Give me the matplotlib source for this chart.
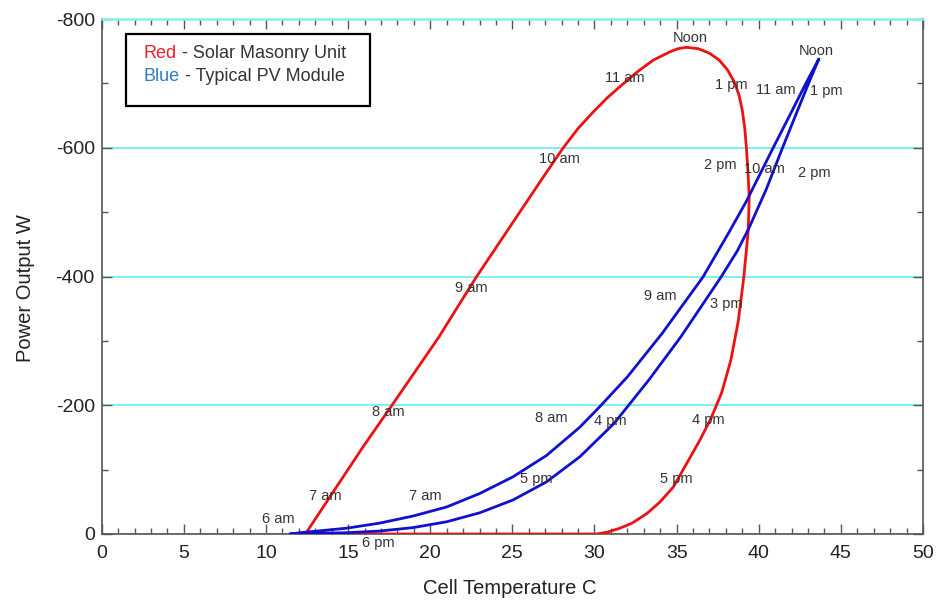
import matplotlib
matplotlib.use("Agg")
import matplotlib.pyplot as plt
from matplotlib.ticker import MultipleLocator
from matplotlib.patches import Rectangle

plt.rcParams['font.family'] = ['Liberation Sans', 'DejaVu Sans']
plt.rcParams['axes.unicode_minus'] = False

# Solar Masonry Unit (red) loop: temperature (C) and power (W)
red_temp = [12.4, 13.9, 15.9, 17.75, 20.5, 22.8, 25.45, 27.0, 28.1, 29.0, 29.9, 30.75,
            31.55, 32.56, 33.57, 34.59, 35.1, 35.6, 36.3, 37.0, 37.6, 38.1, 38.5, 38.8,
            39.0, 39.15, 39.25, 39.35, 39.42, 39.36, 39.09, 38.75, 38.3, 37.75, 37.1,
            36.4, 35.8, 34.8, 34.0, 33.2, 32.3, 31.55, 30.8, 30.15, 25.0, 20.0, 15.0, 12.4]
red_power = [0, -58, -135, -203, -305, -399, -500, -559, -600, -630, -655, -677,
             -695, -717, -736, -749, -754, -756, -754, -747, -736, -721, -703, -682,
             -658, -630, -600, -560, -523, -471, -399, -330, -270, -220, -180,
             -145, -118, -73, -50, -32, -17, -9, -3, 0, 0, 0, 0, 0]

# Typical PV module (blue): morning branch and afternoon branch
blue_am_temp = [11.5, 12.07, 14.91, 16.94, 18.97, 21.0, 23.02, 25.05, 27.08, 29.11,
                30.33, 32.0, 34.1, 36.6, 38.24, 39.25, 40.88, 41.88, 42.87, 43.66]
blue_am_power = [0, -2, -9, -17, -28, -42, -63, -89, -122, -166,
                 -198, -244, -311, -399, -471, -517, -600, -650, -700, -738]
blue_pm_temp = [11.5, 14.91, 16.94, 18.97, 21.0, 23.02, 25.05, 27.08, 29.11, 31.2,
                33.3, 35.25, 37.7, 38.7, 39.4, 40.45, 41.45, 42.3, 43.05, 43.66]
blue_pm_power = [0, -2, -4.6, -10, -19, -33, -53, -81, -120, -172,
                 -239, -306, -399, -440, -475, -535, -600, -654, -701, -738]

# Time-of-day annotations (text, temperature, power)
time_text = ["6 am", "7 am", "7 am", "8 am", "8 am", "9 am", "9 am", "10 am", "10 am",
             "11 am", "11 am", "Noon", "Noon", "1 pm", "1 pm", "2 pm", "2 pm", "3 pm",
             "4 pm", "4 pm", "5 pm", "5 pm", "6 pm"]
time_x = [10.73, 13.59, 19.68, 17.44, 27.35, 22.52, 33.98, 27.89, 40.37,
          31.85, 41.04, 35.81, 43.48, 38.34, 44.13, 37.69, 43.37, 38.04,
          30.94, 36.92, 26.48, 35.0, 16.82]
time_y = [-23, -59, -59, -189, -180, -382, -370, -582, -567,
          -708, -690, -770, -751, -698, -688, -573, -561, -358,
          -176, -177, -85, -86, 14]

x_ticks = [0, 5, 10, 15, 20, 25, 30, 35, 40, 45, 50]
y_ticks = [0, -200, -400, -600, -800]

fig = plt.figure(figsize=(9.36, 6), dpi=100)
ax = fig.add_axes([0.1087, 0.11, 0.8774, 0.8583])

ax.set_xlim(0, 50)
ax.set_ylim(0, -800)
ax.set_xticks(x_ticks)
ax.set_yticks(y_ticks)
ax.set_yticklabels([str(v) for v in y_ticks])
ax.xaxis.set_minor_locator(MultipleLocator(1))
ax.yaxis.set_minor_locator(MultipleLocator(100))
ax.tick_params(which='both', direction='in', top=True, right=True,
               color='#555555', labelcolor='#222222', labelsize=14)
ax.tick_params(which='major', length=7, width=1)
ax.tick_params(which='minor', length=4, width=1)
ax.tick_params(axis='x', which='major', pad=8)
ax.tick_params(axis='y', which='major', pad=5)

ax.set_axisbelow(True)
ax.yaxis.grid(True, color='#80f0f0', linewidth=1.5)
for s in ['left', 'bottom', 'right']:
    ax.spines[s].set_color('#555555')
    ax.spines[s].set_linewidth(1.2)
ax.spines['top'].set_color('#80f0f0')
ax.spines['top'].set_linewidth(1.8)

ax.plot(red_temp, red_power, color='#ee1111', lw=2.0, solid_joinstyle='round', zorder=3)
ax.plot(blue_am_temp + blue_pm_temp[::-1], blue_am_power + blue_pm_power[::-1],
        color='#1010d0', lw=2.0, solid_joinstyle='round', zorder=3)

for t, x, y in zip(time_text, time_x, time_y):
    ax.text(x, y, t, ha='center', va='center', fontsize=10.5, color='#333333',
            zorder=4, clip_on=False)

ax.set_xlabel("Cell Temperature C", fontsize=14.5, color='#222222', va='center')
ax.xaxis.set_label_coords(0.497, -0.105)
ax.set_ylabel("Power Output W", fontsize=14.5, color='#222222', va='center')
ax.yaxis.set_label_coords(-0.093, 0.478)

# Legend box
ax.add_patch(Rectangle((0.0296, 0.8317), 0.2971, 0.1386, transform=ax.transAxes,
                       fill=True, facecolor='white', edgecolor='black', lw=1.6, zorder=5))
t1 = ax.text(0.0507, 0.9334, "Red", transform=ax.transAxes, fontsize=13,
             color='#e8202a', va='center', ha='left', zorder=6)
ax.annotate(" - Solar Masonry Unit", xy=(1, 0.5), xycoords=t1, va='center', ha='left',
            fontsize=13, color='#333333', zorder=6)
t2 = ax.text(0.0507, 0.888, "Blue", transform=ax.transAxes, fontsize=13,
             color='#2c7cc8', va='center', ha='left', zorder=6)
ax.annotate(" - Typical PV Module", xy=(1, 0.5), xycoords=t2, va='center', ha='left',
            fontsize=13, color='#333333', zorder=6)

fig.savefig("out.png", dpi=100)
